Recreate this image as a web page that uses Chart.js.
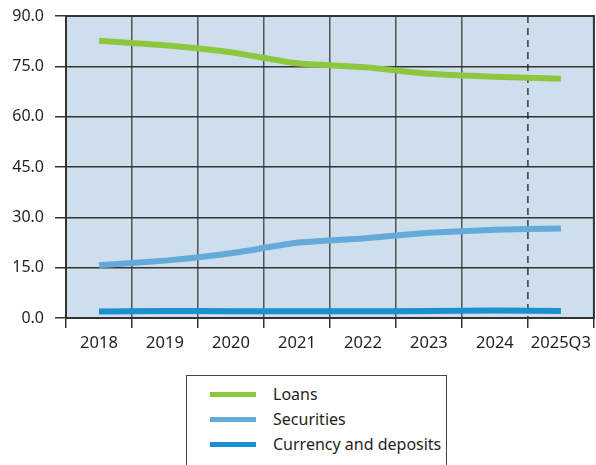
<!DOCTYPE html>
<html><head><meta charset="utf-8">
<script src="https://cdn.jsdelivr.net/npm/chart.js@4"></script>
<style>
html,body{margin:0;padding:0;background:#fff;}
#wrap{position:relative;width:596px;height:465px;overflow:hidden;font-family:"Noto Sans",sans-serif;color:#231f20;}
#cw{position:absolute;left:0;top:0;width:596px;height:360px;}
#legend{position:absolute;left:186px;top:375px;width:261px;height:110px;border:1.5px solid #444;box-sizing:border-box;}
.item{position:absolute;left:23px;height:20px;display:flex;align-items:center;font-size:16px;}
.sw{display:inline-block;width:46px;height:5px;margin-right:17px;}
</style></head>
<body><div id="wrap"><div id="cw"><canvas id="c"></canvas></div>
<div id="legend"></div></div>
<script>
const categories = ["2018","2019","2020","2021","2022","2023","2024","2025Q3"];
const loans = [82.6, 81.3, 79.2, 75.9, 74.8, 72.8, 71.9, 71.3];
const securities = [15.7, 17.1, 19.3, 22.4, 23.7, 25.4, 26.3, 26.7];
const currency = [1.9, 2.1, 2.0, 2.0, 2.0, 2.1, 2.2, 2.1];
const seriesNames = ["Loans","Securities","Currency and deposits"];
const seriesColors = ["#8dc63f","#63a9da","#1b90d0"];
const yTicks = [0, 15, 30, 45, 60, 75, 90];

const lg = document.getElementById('legend');
seriesNames.forEach((n,i)=>{
  const d=document.createElement('div');d.className='item';d.style.top=(8+i*25)+'px';
  d.innerHTML='<span class="sw" style="background:'+seriesColors[i]+'"></span><span>'+n+'</span>';
  lg.appendChild(d);
});

const frame = {
  id:'frame',
  beforeDraw(chart){
    const {ctx,chartArea:a}=chart;
    ctx.save();ctx.fillStyle='#cfdeec';ctx.fillRect(a.left,a.top,a.right-a.left,a.bottom-a.top);ctx.restore();
  },
  beforeDatasetsDraw(chart){
    const {ctx,chartArea:a,scales}=chart;
    const x=scales.x;
    const px=(x.getPixelForTick(6)+x.getPixelForTick(7))/2;
    ctx.save();ctx.strokeStyle='#222';ctx.lineWidth=1.3;ctx.setLineDash([7,5]);
    ctx.beginPath();ctx.moveTo(px,a.top);ctx.lineTo(px,a.bottom);ctx.stroke();ctx.restore();
  },
  afterDraw(chart){
    const {ctx,chartArea:a}=chart;
    ctx.save();ctx.strokeStyle='#333';ctx.lineWidth=2;
    ctx.strokeRect(a.left,a.top,a.right-a.left,a.bottom-a.top);ctx.restore();
  }
};

const mk=(label,data,color)=>({label,data,borderColor:color,backgroundColor:color,borderWidth:6,pointRadius:0,tension:0.15,borderCapStyle:'butt',borderJoinStyle:'round',fill:false});

new Chart(document.getElementById('c'),{
  type:'line',
  data:{labels:categories,datasets:[mk(seriesNames[0],loans,seriesColors[0]),mk(seriesNames[1],securities,seriesColors[1]),mk(seriesNames[2],currency,seriesColors[2])]},
  options:{
    responsive:true,maintainAspectRatio:false,animation:false,
    layout:{padding:{top:0,right:1,left:0,bottom:0}},
    plugins:{legend:{display:false},tooltip:{enabled:false}},
    scales:{
      x:{offset:true,
        grid:{offset:true,color:(c)=>c.index===7?'rgba(0,0,0,0)':'#555',lineWidth:1.5,tickColor:'#333',tickLength:10,tickWidth:1.5},
        border:{display:false},
        ticks:{color:'#231f20',font:{family:'"Noto Sans"',size:16.5},padding:5,maxRotation:0,autoSkip:false},
        afterFit:(s)=>{s.height=42;}
      },
      y:{min:0,max:90,
        afterBuildTicks:(s)=>{s.ticks=yTicks.map(v=>({value:v}));},
        grid:{color:'#333',lineWidth:1.5,tickColor:'#333',tickLength:11,tickWidth:1.5},
        border:{display:false},
        ticks:{color:'#231f20',font:{family:'"Noto Sans"',size:16,lineHeight:1.2},padding:11,callback:(v)=>Number(v).toFixed(1)},
        afterFit:(s)=>{s.width=66;s.paddingTop=16;}
      }
    }
  },
  plugins:[frame]
});
</script></body></html>
